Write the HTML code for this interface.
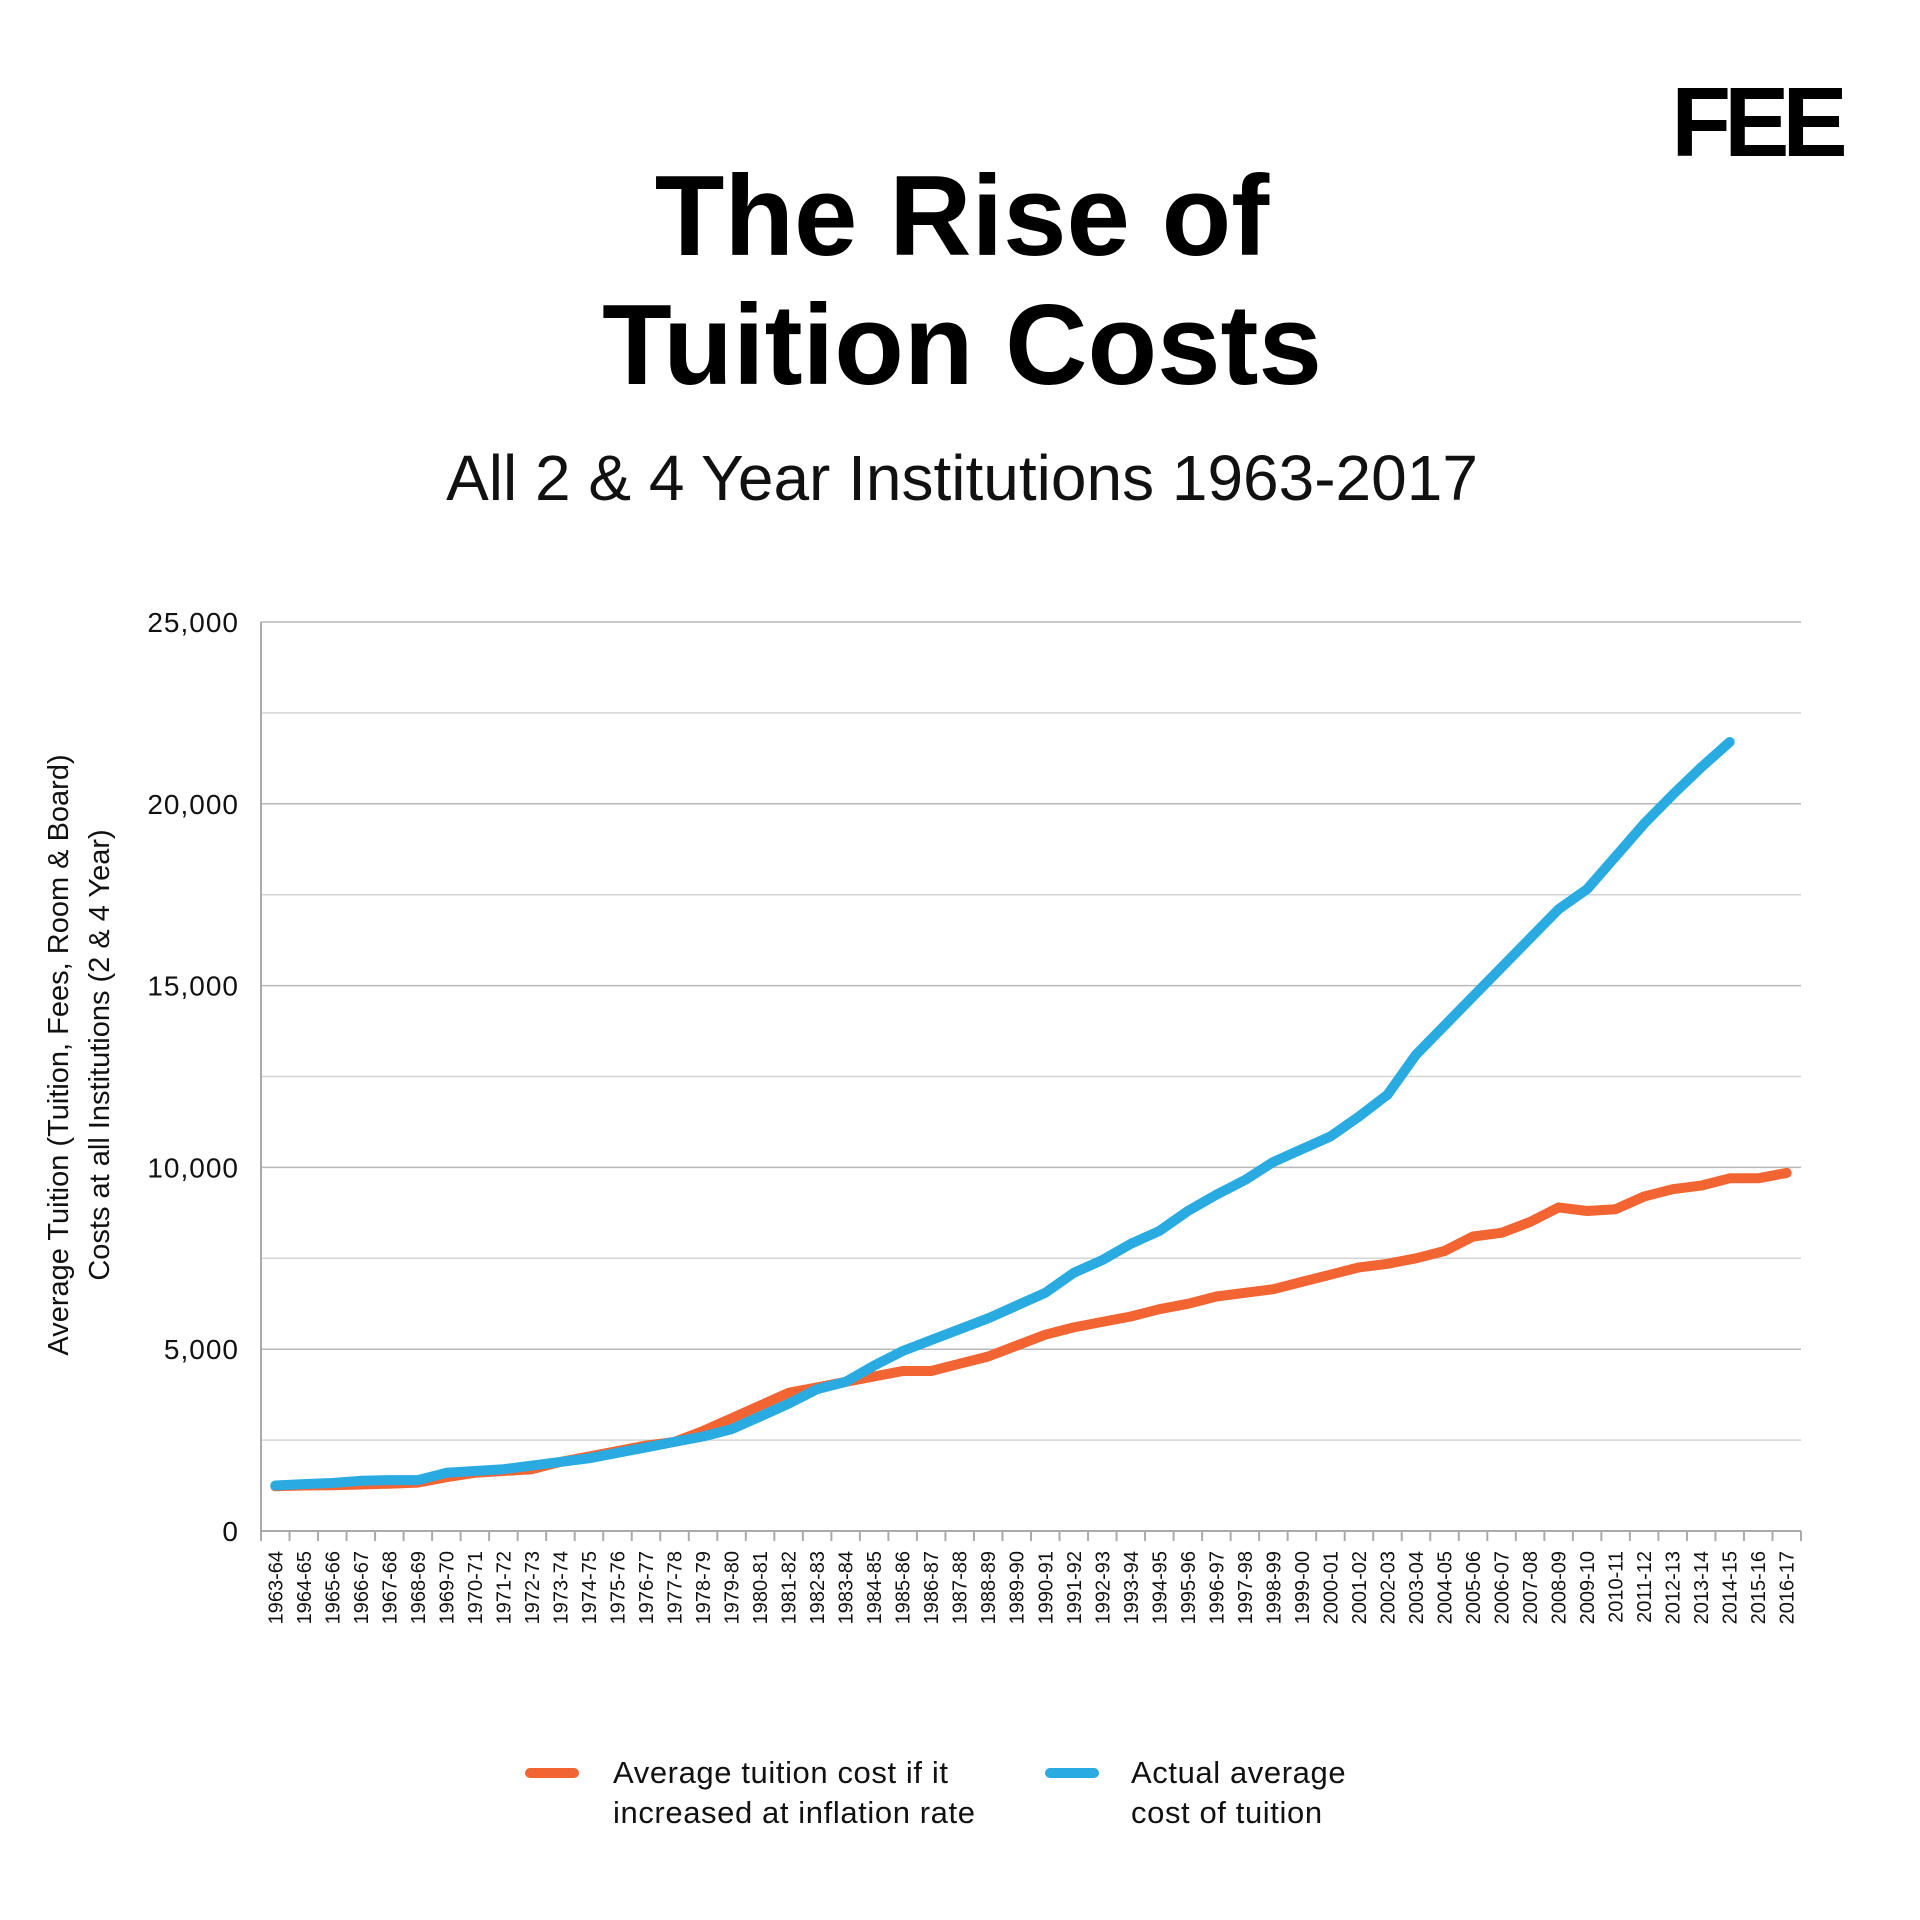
<!DOCTYPE html>
<html><head><meta charset="utf-8"><style>
html,body{margin:0;padding:0;background:#fff;}
svg{display:block;font-family:"Liberation Sans",sans-serif;}
</style></head><body>
<svg id="chart" width="1920" height="1920" viewBox="0 0 1920 1920">
<text x="1756" y="156" text-anchor="middle" font-size="98" font-weight="900" fill="#000" style="letter-spacing:-7px">FEE</text>
<text x="962" y="255" text-anchor="middle" font-size="114" font-weight="bold" fill="#000">The Rise of</text>
<text x="962" y="384" text-anchor="middle" font-size="114" font-weight="bold" fill="#000">Tuition Costs</text>
<text x="962" y="500" text-anchor="middle" font-size="64" fill="#111">All 2 &amp; 4 Year Institutions 1963-2017</text>
<g id="grid"></g>
<g id="yticks"></g>
<g id="xticks"></g>
<g id="series"></g>
<text transform="translate(68,1055) rotate(-90)" text-anchor="middle" font-size="29" fill="#111">Average Tuition (Tuition, Fees, Room &amp; Board)</text>
<text transform="translate(109,1055) rotate(-90)" text-anchor="middle" font-size="29" fill="#111">Costs at all Institutions (2 &amp; 4 Year)</text>
<g>
<line x1="530" y1="1773" x2="574" y2="1773" stroke="#F26532" stroke-width="10" stroke-linecap="round"/>
<text x="613" y="1783" font-size="31" fill="#111" style="letter-spacing:0.6px">Average tuition cost if it</text>
<text x="613" y="1823" font-size="31" fill="#111" style="letter-spacing:0.6px">increased at inflation rate</text>
<line x1="1050" y1="1773" x2="1094" y2="1773" stroke="#29ABE2" stroke-width="10" stroke-linecap="round"/>
<text x="1131" y="1783" font-size="31" fill="#111" style="letter-spacing:0.6px">Actual average</text>
<text x="1131" y="1823" font-size="31" fill="#111" style="letter-spacing:0.6px">cost of tuition</text>
</g>
</svg>
<script>
const years = [];
for (let y = 1963; y <= 2016; y++) years.push(y + '-' + String((y + 1) % 100).padStart(2, '0'));
const yTicks = [0, 5000, 10000, 15000, 20000, 25000];
const yTickLabels = ['0', '5,000', '10,000', '15,000', '20,000', '25,000'];
const inflationCost = [1230,1250,1260,1280,1300,1330,1480,1600,1650,1700,1900,2050,2200,2350,2450,2750,3100,3450,3800,3950,4100,4250,4400,4400,4600,4800,5100,5400,5600,5750,5900,6100,6250,6450,6550,6650,6850,7050,7250,7350,7500,7700,8100,8200,8500,8900,8800,8850,9200,9400,9500,9700,9700,9850];
const actualCost = [1250,1290,1320,1380,1400,1400,1600,1650,1700,1800,1900,2000,2150,2300,2450,2600,2800,3150,3500,3900,4100,4550,4950,5250,5550,5850,6200,6550,7100,7450,7900,8250,8800,9250,9650,10150,10500,10850,11400,12000,13100,13900,14700,15500,16300,17100,17650,18550,19450,20250,21000,21700];

const L = 261, R = 1801, T = 622, B = 1531, YMAX = 25000;
const band = (R - L) / years.length;
const xs = i => L + band * (i + 0.5);
const ys = v => B - (v / YMAX) * (B - T);
const NS = 'http://www.w3.org/2000/svg';
function mk(tag, parent, attrs) { const e = document.createElementNS(NS, tag); for (const k in attrs) e.setAttribute(k, attrs[k]); parent.appendChild(e); return e; }

const grid = document.getElementById('grid');
for (let v = 2500; v <= YMAX; v += 2500) {
  const g = mk('line', grid, {x1: L, x2: R, y1: ys(v), y2: ys(v), stroke: v % 5000 === 0 ? '#b8b8b8' : '#d4d4d4', 'stroke-width': 1.5});
  
  
}
const ax = mk('line', grid, {x1: L, x2: L, y1: T, y2: B, stroke: '#aaa', 'stroke-width': 2});


const bx = mk('line', grid, {x1: L, x2: R, y1: B, y2: B, stroke: '#aaa', 'stroke-width': 2});


for (let i = 0; i <= years.length; i++) {
  const t = mk('line', grid, {x1: L + band * i, x2: L + band * i, y1: B, y2: B + 10, stroke: '#aaa', 'stroke-width': 2});
  
  
}
const yt = document.getElementById('yticks');
yTicks.forEach((v, i) => {
  const t = mk('text', yt, {x: 239, y: ys(v) + 10, 'text-anchor': 'end', 'font-size': 28, fill: '#111', style: 'letter-spacing:1px'});
  t.textContent = yTickLabels[i];
  
  
});
const xt = document.getElementById('xticks');
years.forEach((lab, i) => {
  const t = mk('text', xt, {transform: 'translate(' + (xs(i) + 7) + ',' + (B + 20) + ') rotate(-90)', 'text-anchor': 'end', 'font-size': 20, fill: '#111'});
  t.textContent = lab;
  
  
});
const ser = document.getElementById('series');
function line(vals, color, name) {
  const d = vals.map((v, i) => (i ? 'L' : 'M') + xs(i).toFixed(1) + ',' + ys(v).toFixed(1)).join(' ');
  const p = mk('path', ser, {d: d, fill: 'none', stroke: color, 'stroke-width': 10, 'stroke-linejoin': 'round', 'stroke-linecap': 'round'});
  
  
}
line(inflationCost, '#F26532', 'inflation-adjusted-line');
line(actualCost, '#29ABE2', 'actual-cost-line');
</script>
</body></html>
